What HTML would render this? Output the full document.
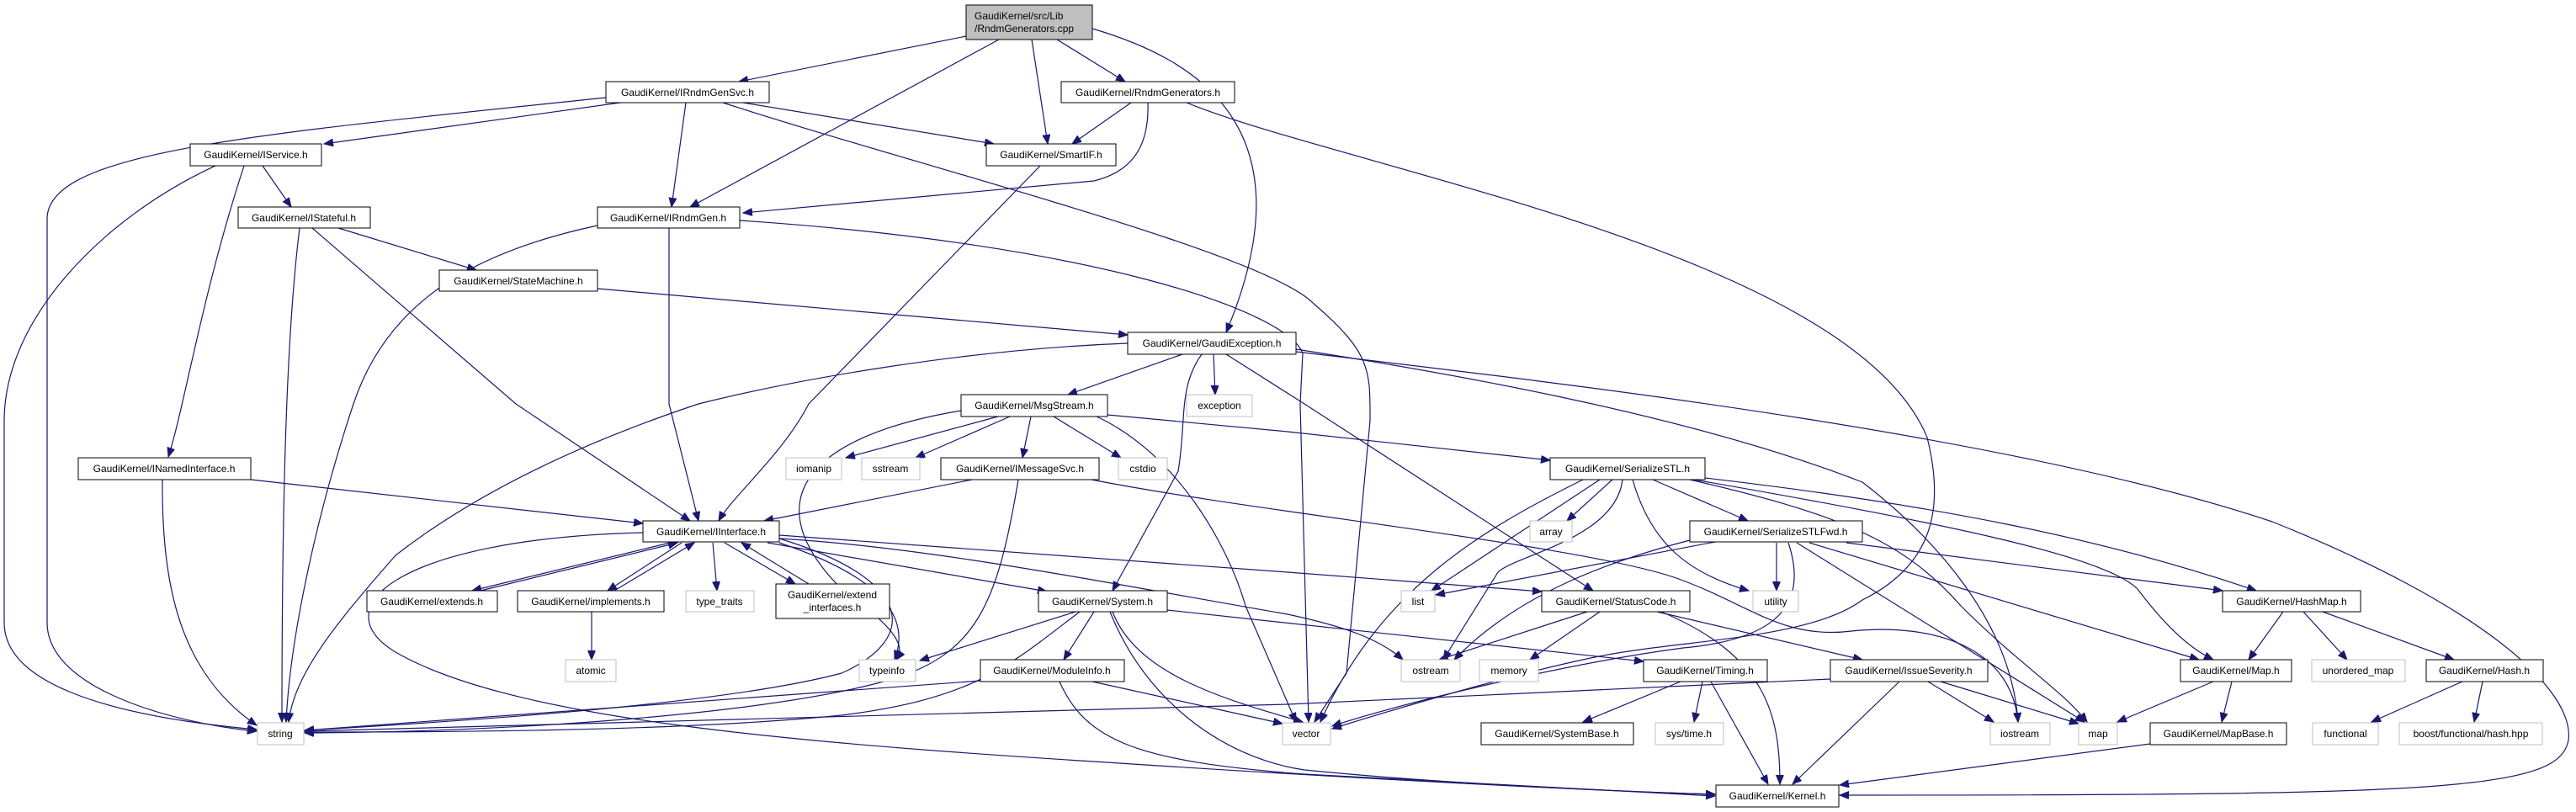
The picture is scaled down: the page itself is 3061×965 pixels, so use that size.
<!DOCTYPE html>
<html><head><meta charset="utf-8"><style>
html,body{margin:0;padding:0;background:#fff;}
svg{display:block}
text{font-family:"Liberation Sans",Arial,sans-serif;font-size:12px;fill:#000}
.n{fill:#fff;stroke:#000;stroke-width:1}
.g{fill:#fff;stroke:#bfbfbf;stroke-width:1}
.e{fill:none;stroke:#191970;stroke-width:1.2}
</style></head><body>
<svg width="3061" height="965" viewBox="0 0 3061 965" xmlns="http://www.w3.org/2000/svg">
<defs><marker id="a" markerUnits="userSpaceOnUse" markerWidth="12" markerHeight="10" refX="11" refY="4.5" orient="auto"><path d="M0,0 L11,4.5 L0,9 z" fill="#191970" stroke="#191970"/></marker></defs>
<g class="e" marker-end="url(#a)">
<path d="M1148,43 L878,97"/>
<path d="M1187,47 L820,246"/>
<path d="M1226,47 L1245,171"/>
<path d="M1256,47 L1337,97"/>
<path d="M1298,34 C1420,70 1560,150 1457,395"/>
<path d="M720,116 C300,160 56,180 56,260 L56,740 C56,820 210,860 305,869"/>
<path d="M737,122 L385,171"/>
<path d="M815,122 L798,246"/>
<path d="M883,122 L1181,171"/>
<path d="M859,122 C1100,200 1500,300 1560,360 C1630,420 1628,440 1628,500 L1600,800 L1562,858"/>
<path d="M1344,122 L1274,171"/>
<path d="M1364,122 C1366,180 1340,205 1300,215 L883,253"/>
<path d="M1410,122 C1600,200 2200,300 2290,520 C2310,600 2300,670 2213,713 C2150,760 2000,760 1900,780 C1800,800 1650,845 1583,866"/>
<path d="M256,197 C120,260 5,380 5,500 L5,740 C5,810 120,850 305,867"/>
<path d="M290,197 C240,350 220,480 200,543"/>
<path d="M312,197 L346,246"/>
<path d="M1236,197 L961,480 C930,540 870,590 854,619"/>
<path d="M356,271 C340,400 335,600 335,858"/>
<path d="M371,271 L613,480 L820,619"/>
<path d="M402,271 L566,321"/>
<path d="M710,268 C560,300 460,360 420,480 C380,600 345,750 340,858"/>
<path d="M795,271 L795,480 L830,619"/>
<path d="M879,262 C1300,290 1530,370 1548,420 L1545,480 L1555,858"/>
<path d="M710,343 L1340,398"/>
<path d="M1340,408 C1150,415 950,450 830,480 C680,530 560,590 470,660 C400,740 350,800 343,858"/>
<path d="M1405,421 L1269,469"/>
<path d="M1442,421 L1444,469"/>
<path d="M1428,421 C1400,460 1410,500 1400,560 L1322,702"/>
<path d="M1457,421 L1550,480 L1893,702"/>
<path d="M1540,415 C1700,440 2000,490 2213,573 C2300,640 2390,740 2398,858"/>
<path d="M1540,418 C1900,460 2400,520 2700,620 C2950,720 3060,820 3052,880 C3040,940 2900,945 2186,945"/>
<path d="M1142,488 C950,520 900,600 1000,700 C1070,750 1075,770 1065,784"/>
<path d="M1186,495 L1005,544"/>
<path d="M1200,495 L1088,544"/>
<path d="M1225,495 L1215,544"/>
<path d="M1252,495 L1332,544"/>
<path d="M1303,495 C1400,540 1460,650 1480,720 L1540,858"/>
<path d="M1316,493 L1530,513 L1842,547"/>
<path d="M1155,570 L908,619"/>
<path d="M1210,570 C1185,720 1160,780 1050,810 C900,850 600,870 362,871"/>
<path d="M1297,570 C1500,610 1900,650 2000,690 C2080,720 2120,760 2200,750 C2300,740 2390,770 2398,858"/>
<path d="M298,570 L764,622"/>
<path d="M193,570 C192,700 215,800 305,862"/>
<path d="M764,633 C480,640 380,720 470,775 C600,850 900,880 1300,905 C1600,925 1900,940 2038,944"/>
<path d="M926,640 C1090,690 1090,760 1000,800 C850,840 500,860 362,868"/>
<path d="M800,644 L561,702"/>
<path d="M571,702 L805,645"/>
<path d="M810,645 L722,702"/>
<path d="M730,702 L825,645"/>
<path d="M847,645 L852,702"/>
<path d="M861,645 L945,694"/>
<path d="M961,694 L881,645"/>
<path d="M912,645 L1244,703"/>
<path d="M926,645 C1060,690 1080,740 1063,784"/>
<path d="M926,636 L1530,680 L1832,703"/>
<path d="M926,640 C1100,650 1300,690 1530,730 C1600,745 1640,760 1667,784"/>
<path d="M703,727 L703,784"/>
<path d="M1278,727 L1093,785"/>
<path d="M1283,727 C1200,790 1160,830 1000,850 C800,870 500,870 362,870"/>
<path d="M1300,727 L1264,784"/>
<path d="M1322,727 C1350,800 1450,830 1548,858"/>
<path d="M1319,727 C1360,830 1450,900 1550,915 C1700,930 1900,940 2038,944"/>
<path d="M1387,725 L1953,786"/>
<path d="M1165,809 L362,868"/>
<path d="M1298,810 L1524,860"/>
<path d="M1259,810 C1290,880 1350,905 1550,920 L2038,946"/>
<path d="M1881,570 C1760,630 1640,700 1569,858"/>
<path d="M1901,570 L1701,702"/>
<path d="M1916,570 L1862,619"/>
<path d="M1928,570 C1920,640 1800,660 1780,680 L1715,784"/>
<path d="M1940,570 C1960,640 2000,680 2078,702"/>
<path d="M1964,570 L2077,619"/>
<path d="M2008,570 C2180,610 2260,640 2330,720 C2400,790 2450,820 2480,858"/>
<path d="M2013,570 C2300,620 2500,660 2540,700 C2570,740 2600,770 2630,784"/>
<path d="M2026,568 C2300,600 2500,640 2681,702"/>
<path d="M2038,644 L1706,707"/>
<path d="M2008,642 C1900,670 1800,710 1728,784"/>
<path d="M2125,645 C2150,720 2110,760 2000,770 C1850,790 1650,840 1583,863"/>
<path d="M2111,645 L2111,702"/>
<path d="M2135,645 L2477,858"/>
<path d="M2150,645 L2613,784"/>
<path d="M2194,645 L2641,702"/>
<path d="M1886,727 L1710,784"/>
<path d="M1901,727 L1818,784"/>
<path d="M1969,727 L2213,784"/>
<path d="M1974,727 C2100,780 2115,850 2115,932"/>
<path d="M1997,810 L1881,858"/>
<path d="M2023,810 L2013,858"/>
<path d="M2033,810 L2101,932"/>
<path d="M2175,807 L1530,837 L362,869"/>
<path d="M2257,810 L2130,932"/>
<path d="M2291,810 L2369,858"/>
<path d="M2306,810 L2470,860"/>
<path d="M2713,727 L2672,784"/>
<path d="M2737,727 L2789,784"/>
<path d="M2760,727 L2916,784"/>
<path d="M2630,810 L2516,858"/>
<path d="M2652,810 L2640,858"/>
<path d="M2555,884 L2186,933"/>
<path d="M2926,810 L2818,858"/>
<path d="M2950,810 L2940,858"/>
</g>
<!-- nodes -->
<rect x="1148" y="6" width="150" height="41" fill="#bfbfbf" stroke="#000"/>
<text x="1158" y="23">GaudiKernel/src/Lib</text><text x="1158" y="38">/RndmGenerators.cpp</text>
<g text-anchor="middle">
<rect class="n" x="720" y="97" width="194" height="25"/><text x="817" y="114">GaudiKernel/IRndmGenSvc.h</text>
<rect class="n" x="1261" y="97" width="206" height="25"/><text x="1364" y="114">GaudiKernel/RndmGenerators.h</text>
<rect class="n" x="226" y="171" width="156" height="26"/><text x="304" y="188">GaudiKernel/IService.h</text>
<rect class="n" x="1172" y="171" width="154" height="26"/><text x="1249" y="188">GaudiKernel/SmartIF.h</text>
<rect class="n" x="283" y="246" width="157" height="25"/><text x="361" y="263">GaudiKernel/IStateful.h</text>
<rect class="n" x="710" y="246" width="169" height="25"/><text x="794" y="263">GaudiKernel/IRndmGen.h</text>
<rect class="n" x="522" y="321" width="188" height="25"/><text x="616" y="338">GaudiKernel/StateMachine.h</text>
<rect class="n" x="1340" y="395" width="200" height="26"/><text x="1440" y="412">GaudiKernel/GaudiException.h</text>
<rect class="n" x="1142" y="469" width="174" height="26"/><text x="1229" y="486">GaudiKernel/MsgStream.h</text>
<rect class="g" x="1410" y="469" width="78" height="26"/><text x="1449" y="486">exception</text>
<rect class="n" x="93" y="544" width="205" height="26"/><text x="195" y="561">GaudiKernel/INamedInterface.h</text>
<rect class="g" x="934" y="544" width="66" height="26"/><text x="967" y="561">iomanip</text>
<rect class="g" x="1024" y="544" width="69" height="26"/><text x="1058" y="561">sstream</text>
<rect class="n" x="1118" y="544" width="188" height="26"/><text x="1212" y="561">GaudiKernel/IMessageSvc.h</text>
<rect class="g" x="1329" y="544" width="58" height="26"/><text x="1358" y="561">cstdio</text>
<rect class="n" x="1842" y="544" width="184" height="26"/><text x="1934" y="561">GaudiKernel/SerializeSTL.h</text>
<rect class="n" x="764" y="619" width="162" height="25"/><text x="845" y="636">GaudiKernel/IInterface.h</text>
<rect class="g" x="1818" y="619" width="50" height="25"/><text x="1843" y="636">array</text>
<rect class="n" x="2008" y="619" width="205" height="25"/><text x="2110" y="636">GaudiKernel/SerializeSTLFwd.h</text>
<rect class="n" x="436" y="702" width="155" height="25"/><text x="513" y="719">GaudiKernel/extends.h</text>
<rect class="n" x="615" y="702" width="174" height="25"/><text x="702" y="719">GaudiKernel/implements.h</text>
<rect class="g" x="815" y="702" width="81" height="25"/><text x="855" y="719">type_traits</text>
<rect class="n" x="922" y="694" width="135" height="41"/><text x="989" y="711">GaudiKernel/extend</text><text x="989" y="726">_interfaces.h</text>
<rect class="n" x="1234" y="702" width="153" height="25"/><text x="1310" y="719">GaudiKernel/System.h</text>
<rect class="g" x="1665" y="702" width="40" height="25"/><text x="1685" y="719">list</text>
<rect class="n" x="1832" y="702" width="176" height="25"/><text x="1920" y="719">GaudiKernel/StatusCode.h</text>
<rect class="g" x="2083" y="702" width="54" height="25"/><text x="2110" y="719">utility</text>
<rect class="n" x="2641" y="702" width="164" height="25"/><text x="2723" y="719">GaudiKernel/HashMap.h</text>
<rect class="g" x="672" y="784" width="60" height="26"/><text x="702" y="801">atomic</text>
<rect class="g" x="1021" y="784" width="67" height="26"/><text x="1054" y="801">typeinfo</text>
<rect class="n" x="1165" y="784" width="171" height="26"/><text x="1250" y="801">GaudiKernel/ModuleInfo.h</text>
<rect class="g" x="1665" y="784" width="70" height="26"/><text x="1700" y="801">ostream</text>
<rect class="g" x="1758" y="784" width="70" height="26"/><text x="1793" y="801">memory</text>
<rect class="n" x="1953" y="784" width="147" height="26"/><text x="2026" y="801">GaudiKernel/Timing.h</text>
<rect class="n" x="2175" y="784" width="187" height="26"/><text x="2268" y="801">GaudiKernel/IssueSeverity.h</text>
<rect class="n" x="2591" y="784" width="132" height="26"/><text x="2657" y="801">GaudiKernel/Map.h</text>
<rect class="g" x="2747" y="784" width="111" height="26"/><text x="2802" y="801">unordered_map</text>
<rect class="n" x="2883" y="784" width="139" height="26"/><text x="2952" y="801">GaudiKernel/Hash.h</text>
<rect class="g" x="306" y="859" width="55" height="26"/><text x="333" y="876">string</text>
<rect class="g" x="1524" y="859" width="57" height="26"/><text x="1552" y="876">vector</text>
<rect class="n" x="1760" y="859" width="181" height="26"/><text x="1850" y="876">GaudiKernel/SystemBase.h</text>
<rect class="g" x="1967" y="859" width="81" height="26"/><text x="2007" y="876">sys/time.h</text>
<rect class="g" x="2365" y="859" width="71" height="26"/><text x="2400" y="876">iostream</text>
<rect class="g" x="2470" y="859" width="46" height="26"/><text x="2493" y="876">map</text>
<rect class="n" x="2555" y="859" width="162" height="26"/><text x="2636" y="876">GaudiKernel/MapBase.h</text>
<rect class="g" x="2748" y="859" width="78" height="26"/><text x="2787" y="876">functional</text>
<rect class="g" x="2851" y="859" width="170" height="26"/><text x="2936" y="876">boost/functional/hash.hpp</text>
<rect class="n" x="2039" y="933" width="146" height="26"/><text x="2112" y="950">GaudiKernel/Kernel.h</text>
</g>
</svg>
</body></html>
